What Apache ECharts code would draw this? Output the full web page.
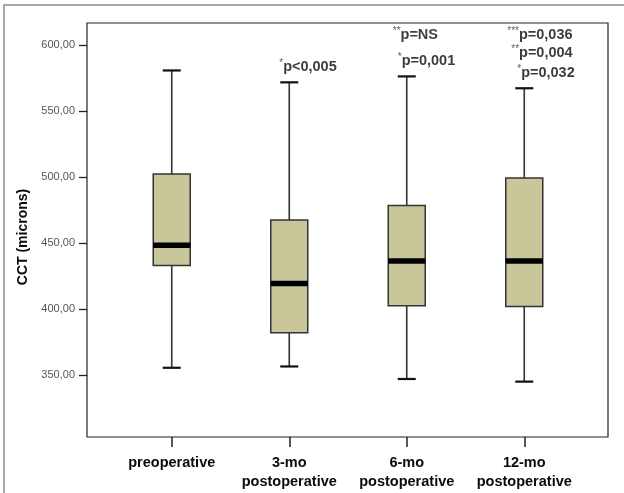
<!DOCTYPE html>
<html>
<head>
<meta charset="utf-8">
<script src="https://cdn.jsdelivr.net/npm/echarts@6/dist/echarts.min.js"></script>
<style>
    html, body { margin: 0; padding: 0; background: #fff; }
    #chart { width: 624px; height: 493px; }
</style>
</head>
<body>
<div id="chart"></div>
<script>
// groups on the x axis
const categories = ['preoperative', '3-mo\npostoperative', '6-mo\npostoperative', '12-mo\npostoperative']
// box statistics (microns)
const lowWhisker = [355.5, 356.5, 347, 345]
const quart1 = [433, 382, 402.5, 402]
const medians = [448.5, 419.5, 436.5, 436.5]
const quart3 = [502.5, 467.5, 478.5, 499.5]
const highWhisker = [581, 572, 576.5, 567.5]
// y tick labels
const yTicks = [350, 400, 450, 500, 550, 600]
// p-value notes above the boxes
const noteCategory = [1, 2, 2, 3, 3, 3]
const noteValue = [583.6, 607.9, 588.2, 607.9, 594.2, 579.1]
const noteStars = ['*', '**', '*', '***', '**', '*']
const noteText = ['p<0,005', 'p=NS', 'p=0,001', 'p=0,036', 'p=0,004', 'p=0,032']
// horizontal shift of each note from its whisker (px)
const noteShift = [-10, -14, -9, -17, -13, -7]

const FONT = 'Arial, "Liberation Sans", sans-serif'
const Y_MIN = 303
const Y_MAX = 617

const boxData = categories.map((c, i) => [i, lowWhisker[i], quart1[i], medians[i], quart3[i], highWhisker[i]])
const noteData = noteCategory.map((c, i) => ({
    value: [c, noteValue[i]],
    label: { offset: [noteShift[i], 0] },
}))

function renderBox(params, api) {
    const i = api.value(0)
    const lo = api.coord([i, api.value(1)])
    const q1 = api.coord([i, api.value(2)])
    const med = api.coord([i, api.value(3)])
    const q3 = api.coord([i, api.value(4)])
    const hi = api.coord([i, api.value(5)])
    const cx = lo[0]
    const half = 18.5
    const cap = 9
    const whisker = { stroke: '#333', lineWidth: 1.6 }
    const capStyle = { stroke: '#111', lineWidth: 2.2 }
    return {
        type: 'group',
        children: [
            { type: 'line', shape: { x1: cx, y1: hi[1], x2: cx, y2: q3[1] }, style: whisker },
            { type: 'line', shape: { x1: cx, y1: q1[1], x2: cx, y2: lo[1] }, style: whisker },
            { type: 'line', shape: { x1: cx - cap, y1: hi[1], x2: cx + cap, y2: hi[1] }, style: capStyle },
            { type: 'line', shape: { x1: cx - cap, y1: lo[1], x2: cx + cap, y2: lo[1] }, style: capStyle },
            {
                type: 'rect',
                shape: { x: cx - half, y: q3[1], width: half * 2, height: q1[1] - q3[1] },
                style: { fill: '#C9C799', stroke: '#333', lineWidth: 1.5 },
            },
            { type: 'line', shape: { x1: cx - half, y1: med[1], x2: cx + half, y2: med[1] }, style: { stroke: '#000', lineWidth: 5.5 } },
        ],
    }
}

const chart = echarts.init(document.getElementById('chart'), null, { renderer: 'canvas' })
const option = {
    animation: false,
    backgroundColor: '#fff',
    textStyle: { fontFamily: FONT },
    graphic: [
        {
            type: 'rect',
            shape: { x: 4, y: 5, width: 660, height: 600 },
            style: { fill: 'none', stroke: '#8c8c8c', lineWidth: 1.5 },
            silent: true,
        },
    ],
    grid: [
        {
            left: 87, right: 16, top: 23, bottom: 56,
            show: true, borderColor: '#222', borderWidth: 1.2, backgroundColor: '#fff',
        },
        { left: 113, right: 41, top: 23, bottom: 56 },
    ],
    xAxis: [
        { gridIndex: 0, type: 'value', show: false, min: 0, max: 1 },
        {
            gridIndex: 1,
            type: 'category',
            data: categories,
            boundaryGap: true,
            axisLine: { show: false },
            axisTick: { show: true, alignWithLabel: true, length: 10, lineStyle: { color: '#222', width: 1.5 } },
            axisLabel: {
                margin: 16,
                fontFamily: FONT,
                fontSize: 14.5,
                fontWeight: 'bold',
                color: '#0a0a0a',
                lineHeight: 19,
                interval: 0,
            },
        },
    ],
    yAxis: [
        {
            gridIndex: 0,
            type: 'value',
            min: Y_MIN,
            max: Y_MAX,
            name: 'CCT (microns)',
            nameLocation: 'middle',
            nameGap: 57,
            nameTextStyle: { fontFamily: FONT, fontSize: 14, fontWeight: 'bold', color: '#0a0a0a', padding: [0, 14, 0, 0] },
            axisLine: { show: false },
            splitLine: { show: false },
            axisTick: { show: true, length: 8, customValues: yTicks, lineStyle: { color: '#222', width: 1.3 } },
            axisLabel: {
                customValues: yTicks,
                margin: 12,
                fontFamily: FONT,
                fontSize: 11,
                color: '#555',
                formatter: v => v.toFixed(2).replace('.', ','),
            },
        },
        { gridIndex: 1, type: 'value', min: Y_MIN, max: Y_MAX, show: false },
    ],
    series: [
        {
            type: 'custom',
            xAxisIndex: 1,
            yAxisIndex: 1,
            renderItem: renderBox,
            data: boxData,
            silent: true,
        },
        {
            type: 'scatter',
            xAxisIndex: 1,
            yAxisIndex: 1,
            symbolSize: 0,
            silent: true,
            data: noteData,
            label: {
                show: true,
                position: 'inside',
                align: 'left',
                verticalAlign: 'middle',
                formatter: p => '{s|' + noteStars[p.dataIndex] + '}{t|' + noteText[p.dataIndex] + '}',
                rich: {
                    s: { fontFamily: FONT, fontSize: 10, color: '#333', verticalAlign: 'top', lineHeight: 17 },
                    t: { fontFamily: FONT, fontSize: 14.5, fontWeight: 'bold', color: '#0a0a0a', lineHeight: 17 },
                },
            },
        },
    ],
}
chart.setOption(option)
</script>
</body>
</html>
